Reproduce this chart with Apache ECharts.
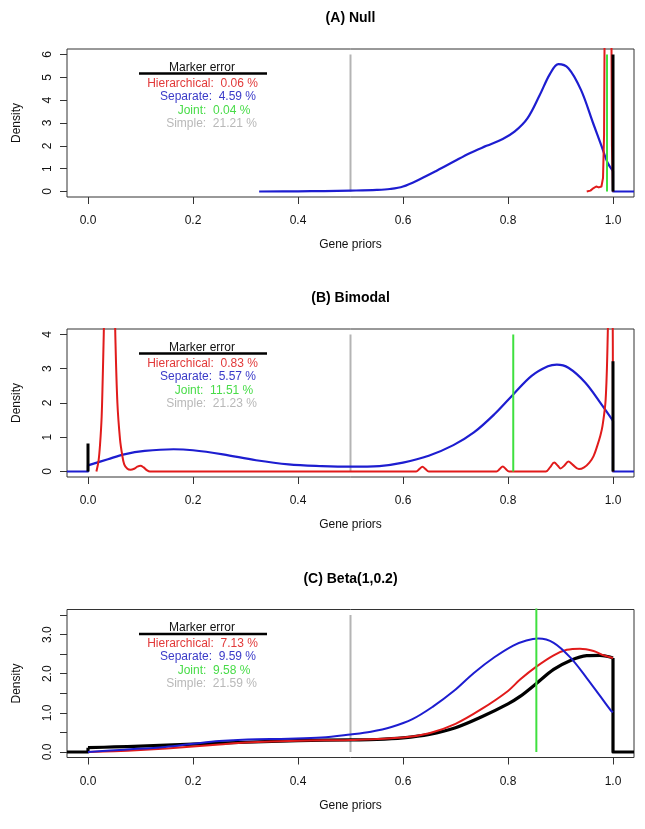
<!DOCTYPE html>
<html><head><meta charset="utf-8">
<script src="https://cdn.jsdelivr.net/npm/echarts@6/dist/echarts.min.js"></script>
<style>html,body{margin:0;padding:0;background:#fff}#c{width:645px;height:829px}</style>
</head><body><div id="c"></div>
<script>
// ---------- text / ticks ----------
const panelTitles = ['(A) Null', '(B) Bimodal', '(C) Beta(1,0.2)'];
const xLabel = 'Gene priors';
const yLabel = 'Density';
const xTicks = [0, 0.2, 0.4, 0.6, 0.8, 1.0];
const xTickLabels = ['0.0', '0.2', '0.4', '0.6', '0.8', '1.0'];
const xLim = [0, 1];
const yLimA = [0, 6], yLimB = [0, 4], yLimC = [0, 3.5];
const yTicksA = [0, 1, 2, 3, 4, 5, 6];
const yLabelsA = ['0', '1', '2', '3', '4', '5', '6'];
const yTicksB = [0, 1, 2, 3, 4];
const yLabelsB = ['0', '1', '2', '3', '4'];
const yTicksC = [0, 0.5, 1, 1.5, 2, 2.5, 3, 3.5];
const yLabelValuesC = [0, 1, 2, 3];
const yLabelsC = ['0.0', '1.0', '2.0', '3.0'];
const legendTitle = 'Marker error';
const methods = ['Hierarchical', 'Separate', 'Joint', 'Simple'];
const errorsA = ['0.06', '4.59', '0.04', '21.21'];
const errorsB = ['0.83', '5.57', '11.51', '21.23'];
const errorsC = ['7.13', '9.59', '9.58', '21.59'];

// ---------- (A) Null ----------
const nullSeparate = [[0.326,0],[0.4,0.01],[0.45,0.02],[0.5,0.04],[0.55,0.07],[0.575,0.11],[0.6,0.22],[0.633,0.55],[0.665,0.92],[0.696,1.3],[0.727,1.68],[0.759,2.0],[0.79,2.3],[0.813,2.63],[0.837,3.2],[0.86,4.2],[0.88,5.15],[0.896,5.58],[0.915,5.4],[0.939,4.45],[0.962,3.0],[0.978,2.0],[0.99,1.25],[1.0,0.9]];
const nullSeparateTail = [[1.0,0.9],[1.0,0],[1.04,0]];
const nullHierarchical = [[0.95,0],[0.957,0.04],[0.963,0.15],[0.968,0.22],[0.973,0.18],[0.978,0.22],[0.981,0.6],[0.983,2.5],[0.984,7],[0.99,40],[0.997,7],[0.998,2],[1.0,0]];
const nullJoint = [[0.9886,0],[0.9886,6]];
const nullSimple = [[0.5,0],[0.5,6]];
const nullTrue = [[1.0,0],[1.0,6]];

// ---------- (B) Bimodal ----------
const bimSeparateHead = [[-0.04,0],[0,0],[0,0.18]];
const bimSeparate = [[0,0.18],[0.038,0.36],[0.069,0.5],[0.108,0.6],[0.163,0.65],[0.2,0.62],[0.257,0.5],[0.32,0.33],[0.382,0.21],[0.445,0.16],[0.5,0.14],[0.555,0.16],[0.6,0.26],[0.649,0.46],[0.696,0.77],[0.735,1.14],[0.774,1.67],[0.81,2.25],[0.845,2.79],[0.876,3.07],[0.893,3.12],[0.915,3.03],[0.947,2.6],[0.978,1.96],[1.0,1.48]];
const bimSeparateTail = [[1.0,1.48],[1.0,0],[1.04,0]];
const bimHierarchical = [[0.016,0],[0.02,0.3],[0.023,0.8],[0.026,1.6],[0.028,2.7],[0.03,4.0],[0.034,7],[0.041,10],[0.048,7],[0.052,4.0],[0.056,2.0],[0.061,0.94],[0.065,0.5],[0.069,0.21],[0.075,0.08],[0.081,0.05],[0.088,0.08],[0.094,0.14],[0.1,0.17],[0.106,0.12],[0.112,0.04],[0.118,0],[0.625,0],[0.631,0.07],[0.637,0.14],[0.643,0.07],[0.649,0],[0.778,0],[0.784,0.07],[0.79,0.15],[0.796,0.07],[0.802,0],[0.872,0],[0.88,0.12],[0.888,0.26],[0.895,0.17],[0.9,0.09],[0.907,0.17],[0.915,0.29],[0.923,0.2],[0.935,0.07],[0.945,0.12],[0.955,0.26],[0.963,0.45],[0.97,0.75],[0.976,1.05],[0.98,1.33],[0.986,2.1],[0.99,4.0],[0.995,8],[0.999,6],[1.0,0]];
const bimJoint = [[0.81,0],[0.81,4]];
const bimSimple = [[0.5,0],[0.5,4]];
const bimTrueLow = [[0,0],[0,0.82]];
const bimTrueHigh = [[1.0,0],[1.0,3.22]];

// ---------- (C) Beta(1,0.2) ----------
const betaSeparate = [[0,0],[0.069,0.06],[0.147,0.13],[0.2,0.21],[0.25,0.28],[0.304,0.32],[0.382,0.34],[0.445,0.37],[0.5,0.45],[0.539,0.52],[0.578,0.64],[0.618,0.84],[0.657,1.16],[0.696,1.55],[0.735,2.02],[0.774,2.42],[0.81,2.72],[0.835,2.85],[0.858,2.9],[0.887,2.79],[0.919,2.41],[0.95,1.89],[0.976,1.42],[0.996,1.06],[1.0,1.02]];
const betaHierarchical = [[0,0],[0.05,0.02],[0.1,0.05],[0.15,0.09],[0.2,0.14],[0.25,0.19],[0.3,0.24],[0.4,0.29],[0.5,0.31],[0.6,0.37],[0.65,0.48],[0.7,0.72],[0.75,1.1],[0.8,1.56],[0.823,1.85],[0.854,2.18],[0.887,2.47],[0.912,2.61],[0.937,2.64],[0.963,2.58],[0.982,2.47],[1.0,2.4]];
const betaJoint = [[0.854,0],[0.854,3.7]];
const betaSimple = [[0.5,0],[0.5,3.5]];
const betaTrueHead = [[-0.04,0],[0,0],[0,0.11]];
const betaTrue = [[0,0.11],[0.05,0.13],[0.1,0.15],[0.2,0.2],[0.3,0.25],[0.4,0.29],[0.5,0.31],[0.55,0.32],[0.6,0.36],[0.65,0.45],[0.7,0.62],[0.75,0.9],[0.8,1.23],[0.823,1.42],[0.854,1.75],[0.887,2.11],[0.919,2.34],[0.95,2.46],[0.975,2.47],[0.99,2.44],[1.0,2.4]];
const betaTrueTail = [[1.0,2.4],[1.0,0],[1.04,0]];

// ---------- styling ----------
const COL = { red:'#e11b1b', blue:'#1d1dd0', green:'#3fe03f', gray:'#b4b4b4', black:'#000' };
const TXT = { red:'#e23a3a', blue:'#3a3ac8', green:'#48dc48', gray:'#b8b8b8' };
const FONT = '"Liberation Sans", Arial, Helvetica, sans-serif';
const panelTop = [49, 329, 609.5];
const boxH = 148, boxL = 67, boxW = 567;

function ext(lim) { const d = (lim[1] - lim[0]) * 0.04; return [lim[0] - d, lim[1] + d]; }

const grids = panelTop.map(t => ({ left: boxL, top: t, width: boxW, height: boxH, show: true, borderColor: '#333', borderWidth: 1, backgroundColor: 'transparent' }));

const xr = ext(xLim);
const xAxes = panelTop.map((t, i) => ({
  type: 'value', gridIndex: i, min: xr[0], max: xr[1], position: 'bottom',
  axisLine: { show: false, onZero: false }, splitLine: { show: false },
  axisTick: { show: true, customValues: xTicks, length: 7, inside: false, lineStyle: { color: '#333', width: 1 } },
  axisLabel: { customValues: xTicks, margin: 18, fontSize: 12, fontFamily: FONT, color: '#111',
    formatter: v => { const k = xTicks.findIndex(x => Math.abs(x - v) < 1e-9); return k >= 0 ? xTickLabels[k] : ''; } },
  name: xLabel, nameLocation: 'middle', nameGap: 42, nameTextStyle: { fontSize: 12, fontFamily: FONT, color: '#111' }
}));

const yDefs = [[yLimA, yTicksA, yTicksA, yLabelsA], [yLimB, yTicksB, yTicksB, yLabelsB], [yLimC, yTicksC, yLabelValuesC, yLabelsC]];
const yAxes = yDefs.map((d, i) => {
  const r = ext(d[0]);
  return {
    type: 'value', gridIndex: i, min: r[0], max: r[1], position: 'left',
    axisLine: { show: false, onZero: false }, splitLine: { show: false },
    axisTick: { show: true, customValues: d[1], length: 7, inside: false, lineStyle: { color: '#333', width: 1 } },
    axisLabel: { customValues: d[2], rotate: 90, margin: 13, fontSize: 12, fontFamily: FONT, color: '#111',
      formatter: v => { const k = d[2].findIndex(x => Math.abs(x - v) < 1e-9); return k >= 0 ? d[3][k] : ''; } },
    name: yLabel, nameLocation: 'middle', nameGap: 44, nameTextStyle: { fontSize: 12, fontFamily: FONT, color: '#111' }
  };
});

function line(data, i, color, width, smooth, z) {
  return { type: 'line', data, xAxisIndex: i, yAxisIndex: i, showSymbol: false, symbol: 'none', smooth: smooth ? 0.35 : false,
    clip: true, lineStyle: { color, width, cap: 'butt', join: 'round' }, z: z || 2, silent: true, animation: false };
}

const series = [
  // A
  line(nullSimple, 0, COL.gray, 2, false, 2),
  line(nullSeparate, 0, COL.blue, 2.2, true, 3),
  line(nullSeparateTail, 0, COL.blue, 2.2, false, 3),
  line(nullHierarchical, 0, COL.red, 2, false, 4),
  line(nullJoint, 0, COL.green, 2, false, 5),
  line(nullTrue, 0, COL.black, 3, false, 6),
  // B
  line(bimSimple, 1, COL.gray, 2, false, 2),
  line(bimSeparateHead, 1, COL.blue, 2.2, false, 3),
  line(bimSeparate, 1, COL.blue, 2.2, true, 3),
  line(bimSeparateTail, 1, COL.blue, 2.2, false, 3),
  line(bimHierarchical, 1, COL.red, 2, true, 4),
  line(bimJoint, 1, COL.green, 2, false, 5),
  line(bimTrueLow, 1, COL.black, 3, false, 6),
  line(bimTrueHigh, 1, COL.black, 3, false, 6),
  // C
  line(betaSimple, 2, COL.gray, 2, false, 2),
  line(betaTrueHead, 2, COL.black, 3.2, false, 3),
  line(betaTrue, 2, COL.black, 3.2, true, 3),
  line(betaTrueTail, 2, COL.black, 3.2, false, 3),
  line(betaHierarchical, 2, COL.red, 2, true, 4),
  line(betaSeparate, 2, COL.blue, 2, true, 5),
  line(betaJoint, 2, COL.green, 2, false, 6)
];

// legend blocks & titles as text
const errs = [errorsA, errorsB, errorsC];
const lineCols = [TXT.red, TXT.blue, TXT.green, TXT.gray];
const lineX = [202.5, 208, 214, 211.5];
const lineY = [83.5, 96.5, 110.5, 123.5];
const graphic = [];
panelTop.forEach((t, p) => {
  const off = t - 49;
  graphic.push({ type: 'text', x: boxL + boxW / 2, y: 18.5 + off, silent: true,
    style: { text: panelTitles[p], font: 'bold 14px ' + FONT, fill: '#000', align: 'center', verticalAlign: 'middle', textAlign: 'center', textVerticalAlign: 'middle' } });
  graphic.push({ type: 'text', x: 202, y: 67.5 + off, silent: true,
    style: { text: legendTitle, font: '12px ' + FONT, fill: '#111', align: 'center', verticalAlign: 'middle', textAlign: 'center', textVerticalAlign: 'middle' } });
  graphic.push({ type: 'line', silent: true, shape: { x1: 139, y1: 73.5 + off, x2: 267, y2: 73.5 + off }, style: { stroke: '#000', lineWidth: 2.6 } });
  methods.forEach((m, k) => {
    graphic.push({ type: 'text', x: lineX[k], y: lineY[k] + off, silent: true,
      style: { text: m + ':  ' + errs[p][k] + ' %', font: '12px ' + FONT, fill: lineCols[k], align: 'center', verticalAlign: 'middle', textAlign: 'center', textVerticalAlign: 'middle' } });
  });
});

const chart = echarts.init(document.getElementById('c'), null, { renderer: 'canvas' });
chart.setOption({
  animation: false,
  backgroundColor: '#fff',
  grid: grids, xAxis: xAxes, yAxis: yAxes, series, graphic
});
</script>
</body></html>
